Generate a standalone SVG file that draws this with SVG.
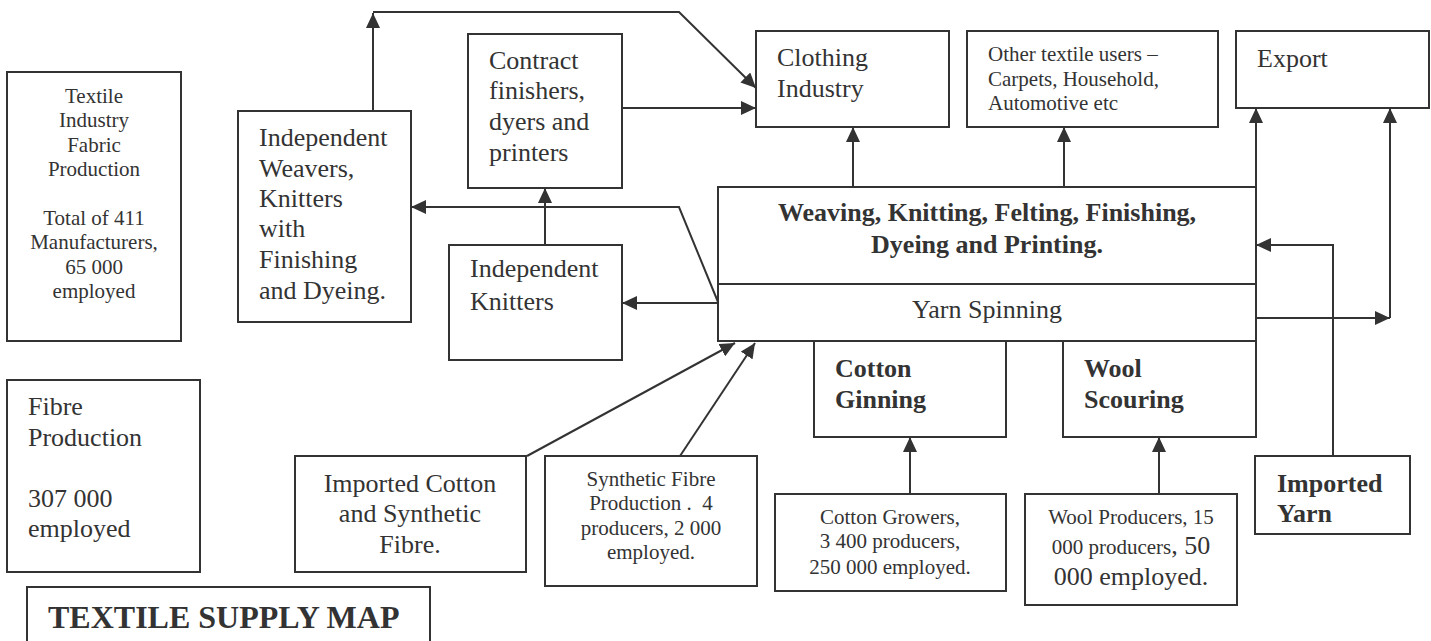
<svg xmlns="http://www.w3.org/2000/svg" width="1431" height="641" viewBox="0 0 1431 641">
<defs>
<style>
.b{fill:#fff;stroke:#333;stroke-width:2}
.t{font-family:"Liberation Serif","Times New Roman",serif;fill:#333}
.s{font-size:21px}
.m{font-size:26px}
.bd{font-weight:bold}
.c{text-anchor:middle}
.l{fill:none;stroke:#333;stroke-width:2}
</style>
<marker id="ah" viewBox="0 0 15 14" refX="15" refY="7" markerWidth="15" markerHeight="14" markerUnits="userSpaceOnUse" orient="auto">
<path d="M0,0 L15,7 L0,14 z" fill="#333"/>
</marker>
</defs>
<rect width="1431" height="641" fill="#fff"/>

<g id="textile-industry">
<rect class="b" x="7" y="72" width="174" height="269"/>
<text class="t s c" x="94"><tspan x="94" y="103">Textile</tspan><tspan x="94" y="127">Industry</tspan><tspan x="94" y="152">Fabric</tspan><tspan x="94" y="176">Production</tspan><tspan x="94" y="225">Total of 411</tspan><tspan x="94" y="249">Manufacturers,</tspan><tspan x="94" y="274">65 000</tspan><tspan x="94" y="298">employed</tspan></text>
</g>

<g id="fibre-production">
<rect class="b" x="7" y="380" width="193" height="192"/>
<text class="t m"><tspan x="28" y="415">Fibre</tspan><tspan x="28" y="446">Production</tspan><tspan x="28" y="507">307 000</tspan><tspan x="28" y="537">employed</tspan></text>
</g>

<g id="title">
<rect class="b" x="27" y="587" width="403" height="70"/>
<text class="t bd" x="48" y="628" style="font-size:32px">TEXTILE SUPPLY MAP</text>
</g>

<g id="independent-weavers">
<rect class="b" x="238" y="111" width="173" height="211"/>
<text class="t m"><tspan x="259" y="146">Independent</tspan><tspan x="259" y="177">Weavers,</tspan><tspan x="259" y="207">Knitters</tspan><tspan x="259" y="237">with</tspan><tspan x="259" y="268">Finishing</tspan><tspan x="259" y="299">and Dyeing.</tspan></text>
</g>

<g id="contract-finishers">
<rect class="b" x="468" y="34" width="154" height="154"/>
<text class="t m"><tspan x="489" y="69">Contract</tspan><tspan x="489" y="99">finishers,</tspan><tspan x="489" y="130">dyers and</tspan><tspan x="489" y="161">printers</tspan></text>
</g>

<g id="independent-knitters">
<rect class="b" x="449" y="245" width="173" height="115"/>
<text class="t m"><tspan x="470" y="277">Independent</tspan><tspan x="470" y="310">Knitters</tspan></text>
</g>

<g id="clothing-industry">
<rect class="b" x="756" y="31" width="193" height="96"/>
<text class="t m"><tspan x="777" y="66">Clothing</tspan><tspan x="777" y="97">Industry</tspan></text>
</g>

<g id="other-textile-users">
<rect class="b" x="967" y="31" width="251" height="96"/>
<text class="t s"><tspan x="988" y="61">Other textile users –</tspan><tspan x="988" y="86">Carpets, Household,</tspan><tspan x="988" y="110">Automotive etc</tspan></text>
</g>

<g id="export">
<rect class="b" x="1236" y="31" width="193" height="77"/>
<text class="t m" x="1257" y="67">Export</text>
</g>

<g id="weaving">
<rect class="b" x="718" y="187" width="538" height="97"/>
<text class="t m bd c"><tspan x="987" y="221">Weaving, Knitting, Felting, Finishing,</tspan><tspan x="987" y="253">Dyeing and Printing.</tspan></text>
</g>

<g id="yarn-spinning">
<rect class="b" x="718" y="284" width="538" height="57"/>
<text class="t m c" x="987" y="318">Yarn Spinning</text>
</g>

<g id="cotton-ginning">
<rect class="b" x="814" y="341" width="192" height="96"/>
<text class="t m bd"><tspan x="835" y="377">Cotton</tspan><tspan x="835" y="408">Ginning</tspan></text>
</g>

<g id="wool-scouring">
<rect class="b" x="1063" y="341" width="193" height="96"/>
<text class="t m bd"><tspan x="1084" y="377">Wool</tspan><tspan x="1084" y="408">Scouring</tspan></text>
</g>

<g id="imported-cotton">
<rect class="b" x="295" y="456" width="231" height="116"/>
<text class="t m c"><tspan x="410" y="492">Imported Cotton</tspan><tspan x="410" y="522">and Synthetic</tspan><tspan x="410" y="553">Fibre.</tspan></text>
</g>

<g id="synthetic-fibre">
<rect class="b" x="545" y="456" width="212" height="130"/>
<text class="t s c"><tspan x="651" y="486">Synthetic Fibre</tspan><tspan x="651" y="510">Production .&#160; 4</tspan><tspan x="651" y="535">producers, 2 000</tspan><tspan x="651" y="559">employed.</tspan></text>
</g>

<g id="cotton-growers">
<rect class="b" x="775" y="494" width="231" height="97"/>
<text class="t s c"><tspan x="890" y="524">Cotton Growers,</tspan><tspan x="890" y="548">3 400 producers,</tspan><tspan x="890" y="574">250 000 employed.</tspan></text>
</g>

<g id="wool-producers">
<rect class="b" x="1025" y="494" width="212" height="111"/>
<text class="t c"><tspan class="s" x="1131" y="524">Wool Producers, 15</tspan><tspan x="1131" y="554"><tspan class="s">000 producers</tspan><tspan class="m">, 50</tspan></tspan><tspan class="m" x="1131" y="585">000 employed.</tspan></text>
</g>

<g id="imported-yarn">
<rect class="b" x="1255" y="456" width="155" height="78"/>
<text class="t m bd"><tspan x="1277" y="492">Imported</tspan><tspan x="1277" y="522">Yarn</tspan></text>
</g>

<g id="connectors">
<line class="l" x1="373" y1="111" x2="373" y2="13" marker-end="url(#ah)"/>
<polyline class="l" points="373,12 679,12 756,88" marker-end="url(#ah)"/>
<line class="l" x1="622" y1="108" x2="756" y2="108" marker-end="url(#ah)"/>
<line class="l" x1="545" y1="245" x2="545" y2="188" marker-end="url(#ah)"/>
<line class="l" x1="718" y1="303" x2="622" y2="303" marker-end="url(#ah)"/>
<polyline class="l" points="718,302 679,207 411,207" marker-end="url(#ah)"/>
<line class="l" x1="853" y1="187" x2="853" y2="127" marker-end="url(#ah)"/>
<line class="l" x1="1064" y1="187" x2="1064" y2="127" marker-end="url(#ah)"/>
<line class="l" x1="1256" y1="187" x2="1256" y2="108" marker-end="url(#ah)"/>
<line class="l" x1="1256" y1="318" x2="1390" y2="318" marker-end="url(#ah)"/>
<line class="l" x1="1390" y1="318" x2="1390" y2="108" marker-end="url(#ah)"/>
<polyline class="l" points="1333,456 1333,245 1256,245" marker-end="url(#ah)"/>
<line class="l" x1="910" y1="494" x2="910" y2="437" marker-end="url(#ah)"/>
<line class="l" x1="1159" y1="494" x2="1159" y2="437" marker-end="url(#ah)"/>
<line class="l" x1="527" y1="456" x2="735" y2="343" marker-end="url(#ah)"/>
<line class="l" x1="680" y1="456" x2="755" y2="343" marker-end="url(#ah)"/>
</g>
</svg>
